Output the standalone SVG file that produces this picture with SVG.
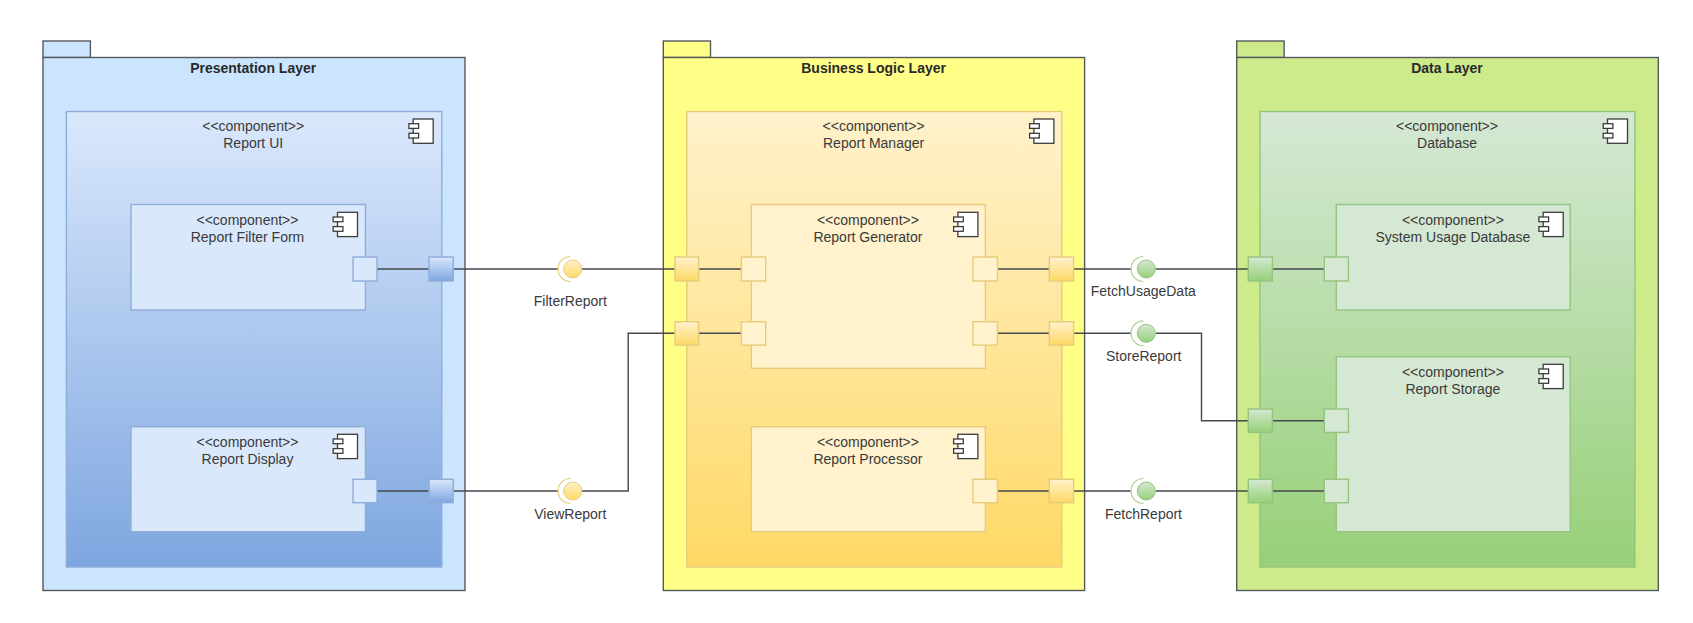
<svg xmlns="http://www.w3.org/2000/svg" xmlns:xlink="http://www.w3.org/1999/xlink" width="1693" height="623" viewBox="0 0 1693 623">
<style>
text{font-family:"Liberation Sans",Arial,sans-serif;font-size:14px;fill:#3a3a3a;text-anchor:middle}
.t{font-weight:bold;fill:#2a2a2a}
.pk{stroke:#55595e;stroke-width:1.4}
.b{stroke:#8fadd8;stroke-width:1.4}.y{stroke:#e6cc7a;stroke-width:1.4}.g{stroke:#94c47e;stroke-width:1.4}
.bi{fill:#dae8fc}.yi{fill:#fff2cc}.gi{fill:#d5e8d4}
.bg{fill:url(#gb)}.yg{fill:url(#gy)}.gg{fill:url(#gg)}
.c{fill:none;stroke:#45484c;stroke-width:1.4}
.s{fill:none;stroke-width:1.2}
.ic{fill:#fff;stroke:#3c3c3c;stroke-width:1.3}
</style>
<defs>
<linearGradient id="gb" x1="0" y1="0" x2="0" y2="1"><stop offset="0" stop-color="#dae8fc"/><stop offset="1" stop-color="#7ea6e0"/></linearGradient>
<linearGradient id="gy" x1="0" y1="0" x2="0" y2="1"><stop offset="0" stop-color="#fff2cc"/><stop offset="1" stop-color="#ffd966"/></linearGradient>
<linearGradient id="gg" x1="0" y1="0" x2="0" y2="1"><stop offset="0" stop-color="#d5e8d4"/><stop offset="1" stop-color="#97d077"/></linearGradient>
<g id="icon"><rect class="ic" x="0" y="0" width="20" height="24.3"/><rect class="ic" x="-4.3" y="4.7" width="9.7" height="4.7"/><rect class="ic" x="-4.3" y="14.3" width="9.7" height="4.7"/></g>
</defs>
<rect width="1693" height="623" fill="#fff"/>

<g id="presentation-layer">
<rect class="pk" x="43" y="41" width="47.4" height="16.5" fill="#cce5ff"/>
<rect class="pk" x="43" y="57.5" width="422" height="533" fill="#cce5ff"/>
<text class="t" x="253.2" y="73">Presentation Layer</text>
</g>
<g id="business-logic-layer">
<rect class="pk" x="663.3" y="41" width="47.2" height="16.5" fill="#ffff88"/>
<rect class="pk" x="663.3" y="57.5" width="421.3" height="533" fill="#ffff88"/>
<text class="t" x="873.6" y="73">Business Logic Layer</text>
</g>
<g id="data-layer">
<rect class="pk" x="1236.7" y="41" width="47.4" height="16.5" fill="#cdeb8b"/>
<rect class="pk" x="1236.7" y="57.5" width="421.6" height="533" fill="#cdeb8b"/>
<text class="t" x="1447" y="73">Data Layer</text>
</g>

<g id="report-ui">
<rect class="b bg" x="66.4" y="111.5" width="375.4" height="455.5"/>
<text x="253.2" y="131">&lt;&lt;component&gt;&gt;</text><text x="253.2" y="148">Report UI</text>
<use xlink:href="#icon" href="#icon" x="413.2" y="119"/>
</g>
<g id="report-manager">
<rect class="y yg" x="686.8" y="111.5" width="375" height="455.5"/>
<text x="873.6" y="131">&lt;&lt;component&gt;&gt;</text><text x="873.6" y="148">Report Manager</text>
<use xlink:href="#icon" href="#icon" x="1033.9" y="119"/>
</g>
<g id="database">
<rect class="g gg" x="1260" y="111.5" width="374.9" height="455.5"/>
<text x="1447" y="131">&lt;&lt;component&gt;&gt;</text><text x="1447" y="148">Database</text>
<use xlink:href="#icon" href="#icon" x="1607.5" y="119"/>
</g>

<g id="report-filter-form">
<rect class="b bi" x="131" y="204.5" width="234.4" height="105.5"/>
<text x="247.5" y="224.5">&lt;&lt;component&gt;&gt;</text><text x="247.5" y="241.5">Report Filter Form</text>
<use xlink:href="#icon" href="#icon" x="337.5" y="212.3"/>
</g>
<g id="report-display">
<rect class="b bi" x="131" y="426.7" width="234.4" height="105"/>
<text x="247.5" y="446.7">&lt;&lt;component&gt;&gt;</text><text x="247.5" y="463.5">Report Display</text>
<use xlink:href="#icon" href="#icon" x="337.5" y="434.3"/>
</g>
<g id="report-generator">
<rect class="y yi" x="751.4" y="204.5" width="234" height="163.8"/>
<text x="867.9" y="224.5">&lt;&lt;component&gt;&gt;</text><text x="867.9" y="241.5">Report Generator</text>
<use xlink:href="#icon" href="#icon" x="957.9" y="212.3"/>
</g>
<g id="report-processor">
<rect class="y yi" x="751.4" y="426.7" width="234" height="105"/>
<text x="867.9" y="446.7">&lt;&lt;component&gt;&gt;</text><text x="867.9" y="463.5">Report Processor</text>
<use xlink:href="#icon" href="#icon" x="957.9" y="434.3"/>
</g>
<g id="system-usage-database">
<rect class="g gi" x="1336.3" y="204.5" width="233.9" height="105.5"/>
<text x="1452.9" y="224.5">&lt;&lt;component&gt;&gt;</text><text x="1452.9" y="241.5">System Usage Database</text>
<use xlink:href="#icon" href="#icon" x="1543.2" y="212.3"/>
</g>
<g id="report-storage">
<rect class="g gi" x="1336.3" y="356.7" width="233.9" height="175"/>
<text x="1452.9" y="376.7">&lt;&lt;component&gt;&gt;</text><text x="1452.9" y="393.5">Report Storage</text>
<use xlink:href="#icon" href="#icon" x="1543.2" y="364.3"/>
</g>

<g id="connectors">
<path class="c" d="M377 269H429M453.2 269H558M582 269H675"/>
<path class="c" d="M377 491H429M453.2 491H558M582 491H628.2V333.3H675"/>
<path class="c" d="M698.6 269H741.4M698.6 333.3H741.4"/>
<path class="c" d="M997.5 269H1049.3M1073.6 269H1131M1155.5 269H1248.3M1272.4 269H1324.3"/>
<path class="c" d="M997.5 333.3H1049.3M1073.6 333.3H1131M1155.5 333.3H1201.5V420.7H1248.3M1272.4 420.7H1324.3"/>
<path class="c" d="M997.5 491H1049.3M1073.6 491H1131M1155.5 491H1248.3M1272.4 491H1324.3"/>
</g>

<g id="port-filter-inner"><rect class="b bi" x="353" y="257" width="24" height="24"/></g>
<g id="port-filter-outer"><rect class="b bg" x="429" y="257" width="24.2" height="24"/></g>
<g id="port-display-inner"><rect class="b bi" x="353" y="479.3" width="24" height="23.4"/></g>
<g id="port-display-outer"><rect class="b bg" x="429" y="479.3" width="24.2" height="23.4"/></g>

<g id="port-manager-l1"><rect class="y yg" x="675" y="257" width="23.6" height="24"/></g>
<g id="port-generator-l1"><rect class="y yi" x="741.4" y="257" width="24.3" height="24"/></g>
<g id="port-generator-r1"><rect class="y yi" x="973" y="257" width="24.5" height="24"/></g>
<g id="port-manager-r1"><rect class="y yg" x="1049.3" y="257" width="24.3" height="24"/></g>
<g id="port-manager-l2"><rect class="y yg" x="675" y="321.7" width="23.6" height="23.4"/></g>
<g id="port-generator-l2"><rect class="y yi" x="741.4" y="321.7" width="24.3" height="23.4"/></g>
<g id="port-generator-r2"><rect class="y yi" x="973" y="321.7" width="24.5" height="23.4"/></g>
<g id="port-manager-r2"><rect class="y yg" x="1049.3" y="321.7" width="24.3" height="23.4"/></g>
<g id="port-processor-r"><rect class="y yi" x="973" y="479.3" width="24.5" height="23.4"/></g>
<g id="port-manager-r3"><rect class="y yg" x="1049.3" y="479.3" width="24.3" height="23.4"/></g>

<g id="port-database-1"><rect class="g gg" x="1248.3" y="257" width="24.1" height="24"/></g>
<g id="port-usage"><rect class="g gi" x="1324.3" y="257" width="24.1" height="24"/></g>
<g id="port-database-2"><rect class="g gg" x="1248.3" y="409" width="24.1" height="23.4"/></g>
<g id="port-storage-1"><rect class="g gi" x="1324.3" y="409" width="24.1" height="23.4"/></g>
<g id="port-database-3"><rect class="g gg" x="1248.3" y="479.3" width="24.1" height="23.4"/></g>
<g id="port-storage-2"><rect class="g gi" x="1324.3" y="479.3" width="24.1" height="23.4"/></g>

<g id="filter-report">
<path class="s" stroke="#e6cc7a" d="M570.5 256.5A12.5 12.5 0 0 0 570.5 281.5"/>
<circle class="yg" cx="572.7" cy="269" r="9" stroke="#e6cc7a"/>
<text x="570.3" y="305.5">FilterReport</text>
</g>
<g id="view-report">
<path class="s" stroke="#e6cc7a" d="M570.5 478.5A12.5 12.5 0 0 0 570.5 503.5"/>
<circle class="yg" cx="572.7" cy="491" r="9" stroke="#e6cc7a"/>
<text x="570.3" y="518.5">ViewReport</text>
</g>
<g id="fetch-usage-data">
<path class="s" stroke="#a9d396" d="M1143.5 256.5A12.5 12.5 0 0 0 1143.5 281.5"/>
<circle class="gg" cx="1146.3" cy="269" r="9" stroke="#94c47e"/>
<text x="1143.3" y="296">FetchUsageData</text>
</g>
<g id="store-report">
<path class="s" stroke="#a9d396" d="M1143.5 320.8A12.5 12.5 0 0 0 1143.5 345.8"/>
<circle class="gg" cx="1146.3" cy="333.3" r="9" stroke="#94c47e"/>
<text x="1143.7" y="360.5">StoreReport</text>
</g>
<g id="fetch-report">
<path class="s" stroke="#a9d396" d="M1143.5 478.5A12.5 12.5 0 0 0 1143.5 503.5"/>
<circle class="gg" cx="1146.3" cy="491" r="9" stroke="#94c47e"/>
<text x="1143.5" y="518.5">FetchReport</text>
</g>
</svg>
